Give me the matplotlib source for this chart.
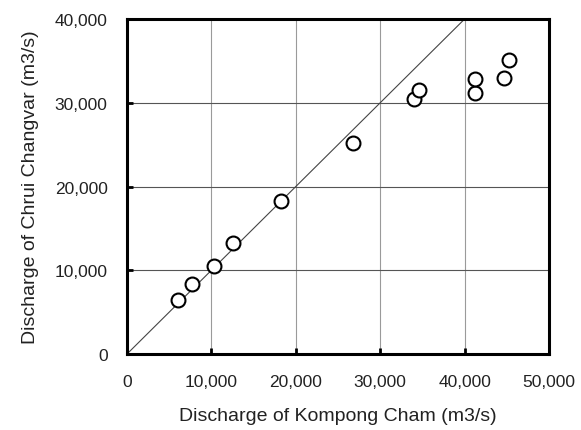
import matplotlib
matplotlib.use("Agg")
import matplotlib.pyplot as plt
from matplotlib.ticker import FuncFormatter

plt.rcParams['font.family'] = ['Liberation Sans', 'DejaVu Sans']

# discharge readings (m3/s)
kompong_cham = [6000, 7700, 10300, 12600, 18200, 26800, 34000, 34600, 41200, 41200, 44700, 45300]
chrui_changvar = [6400, 8300, 10500, 13200, 18300, 25200, 30400, 31500, 31200, 32800, 32900, 35100]
line_x = [0, 40000]
line_y = [0, 40000]

fig = plt.figure(figsize=(5.81, 4.31), dpi=100)
ax = fig.add_axes([0.2186, 0.1763, 0.7264, 0.7773])

ax.set_xlim(0, 50000)
ax.set_ylim(0, 40000)
ax.set_xticks(range(0, 50001, 10000))
ax.set_yticks(range(0, 40001, 10000))

fmt = FuncFormatter(lambda v, p: f"{int(v):,}")
ax.xaxis.set_major_formatter(fmt)
ax.yaxis.set_major_formatter(fmt)

for v in range(10000, 50000, 10000):
    ax.axvline(v, color='#9a9a9a', lw=0.8, zorder=0)
for v in range(10000, 40000, 10000):
    ax.axhline(v, color='#555555', lw=0.8, zorder=0)

ax.plot(line_x, line_y, color='#444444', lw=0.8, zorder=1)
ax.plot(kompong_cham, chrui_changvar, 'o', ms=10, mfc='white', mec='black', mew=1.5, zorder=3, clip_on=False)

for s in ax.spines.values():
    s.set_linewidth(2.2)
ax.tick_params(direction='in', length=4, width=2, labelsize=12.5, labelcolor='#222222')
ax.tick_params(axis='x', pad=14.5)
ax.tick_params(axis='y', pad=14)
ax.tick_params(top=False, right=False)

ax.set_xlabel('Discharge of Kompong Cham (m3/s)', fontsize=14, color='#222222', labelpad=13)
ax.set_ylabel('Discharge of Chrui Changvar (m3/s)', fontsize=14, color='#222222', labelpad=11)

fig.savefig('out.png', dpi=100)
